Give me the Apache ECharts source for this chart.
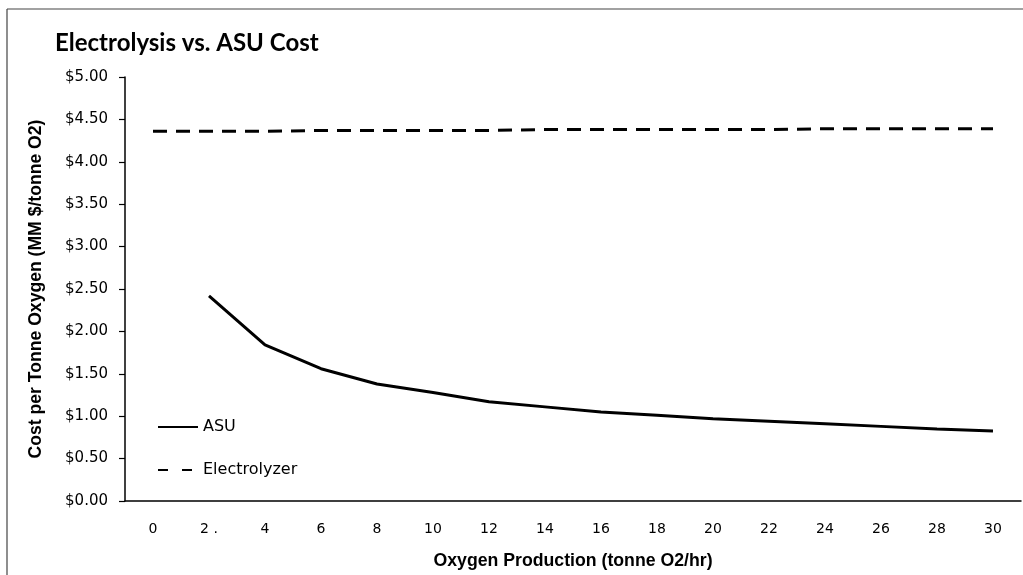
<!DOCTYPE html>
<html>
<head>
<meta charset="utf-8">
<script src="https://cdn.jsdelivr.net/npm/echarts@6/dist/echarts.min.js"></script>
<style>
html,body{margin:0;padding:0;background:#fff;}
#chart{width:1023px;height:575px;}
</style>
</head>
<body>
<div id="chart"></div>
<script>
const categories = ['0','2 .','4','6','8','10','12','14','16','18','20','22','24','26','28','30'];
const asuValues = [null, 2.42, 1.84, 1.56, 1.38, 1.28, 1.17, 1.11, 1.05, 1.01, 0.97, 0.94, 0.91, 0.88, 0.85, 0.825];
const electrolyzerValues = [4.36, 4.36, 4.36, 4.37, 4.37, 4.37, 4.37, 4.38, 4.38, 4.38, 4.38, 4.38, 4.39, 4.39, 4.39, 4.39];

const chart = echarts.init(document.getElementById('chart'));
const labelFont = 'DejaVu Sans, sans-serif';
const nameFont = 'Liberation Sans, Arial, sans-serif';
chart.setOption({
  animation: false,
  backgroundColor: '#fff',
  title: {
    text: 'Electrolysis vs. ASU Cost',
    left: 50, top: 26,
    textStyle: {fontFamily: 'Lato, Open Sans, sans-serif', fontWeight: 'bold', fontSize: 24, color: '#000'}
  },
  graphic: [
    {type: 'line', shape: {x1: 7, y1: 9, x2: 1023, y2: 9}, style: {stroke: '#444', lineWidth: 1.2}},
    {type: 'line', shape: {x1: 7, y1: 9, x2: 7, y2: 575}, style: {stroke: '#444', lineWidth: 1.2}}
  ],
  legend: {
    orient: 'vertical',
    left: 152, top: 414,
    itemWidth: 40, itemHeight: 14, itemGap: 27,
    itemStyle: {opacity: 0},
    textStyle: {fontFamily: labelFont, fontSize: 16, color: '#000'},
    data: [
      {name: 'ASU'},
      {name: 'Electrolyzer', lineStyle: {type: [10, 14]}}
    ]
  },
  grid: {left: 125, right: 2, top: 77, bottom: 72.5},
  xAxis: {
    type: 'category',
    data: categories,
    boundaryGap: true,
    name: 'Oxygen Production (tonne O2/hr)',
    nameLocation: 'middle',
    nameGap: 51,
    nameTextStyle: {fontFamily: nameFont, fontWeight: 'bold', fontSize: 17.7, color: '#000'},
    axisLine: {lineStyle: {color: '#000', width: 1.5}},
    axisTick: {length: 4, lineStyle: {color: '#000', width: 1.2}},
    axisLabel: {margin: 21, fontFamily: labelFont, fontSize: 14, color: '#000'}
  },
  yAxis: {
    type: 'value',
    min: 0, max: 5, interval: 0.5,
    name: 'Cost per Tonne Oxygen (MM $/tonne O2)',
    nameLocation: 'middle',
    nameGap: 80,
    nameTextStyle: {fontFamily: nameFont, fontWeight: 'bold', fontSize: 17.6, color: '#000'},
    axisLine: {show: true, lineStyle: {color: '#000', width: 1.5}},
    axisTick: {show: true, length: 6, lineStyle: {color: '#000', width: 1.2}},
    splitLine: {show: false},
    axisLabel: {margin: 17, fontFamily: labelFont, fontSize: 15, color: '#000', formatter: v => '$' + v.toFixed(2)}
  },
  series: [
    {
      name: 'ASU', type: 'line', data: asuValues, symbol: 'none', smooth: false,
      lineStyle: {color: '#000', width: 3}, itemStyle: {color: '#000'}
    },
    {
      name: 'Electrolyzer', type: 'line', data: electrolyzerValues, symbol: 'none',
      lineStyle: {color: '#000', width: 3, type: [14, 9]}, itemStyle: {color: '#000'}
    }
  ]
});
</script>
</body>
</html>
